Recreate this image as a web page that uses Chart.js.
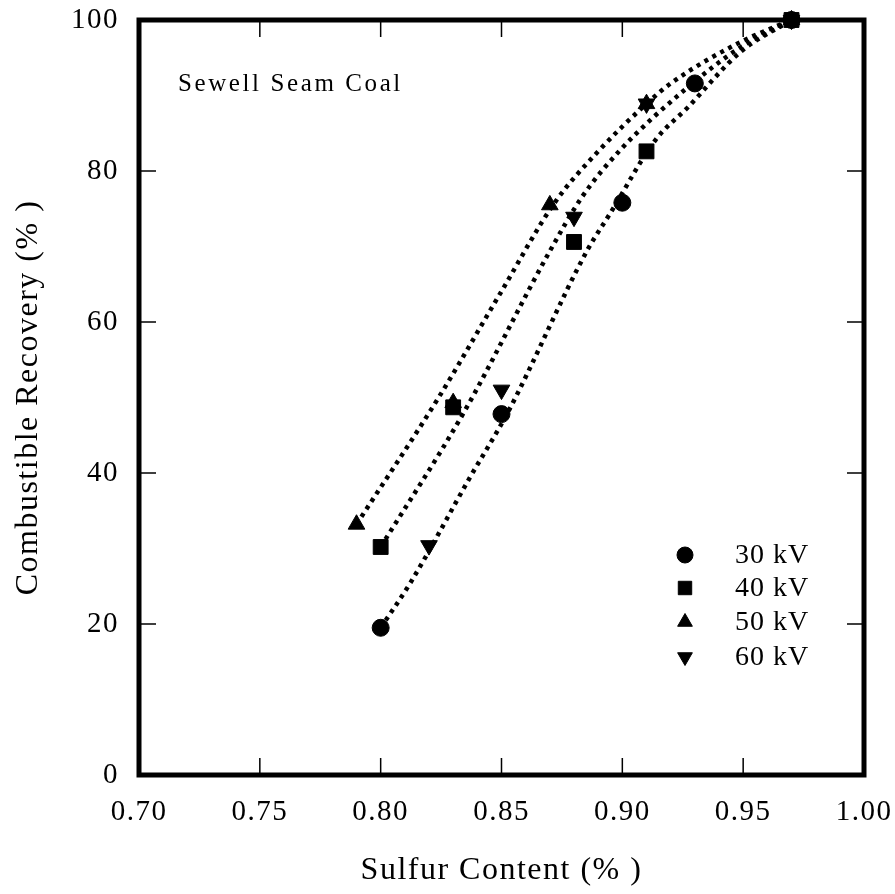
<!DOCTYPE html>
<html>
<head>
<meta charset="utf-8">
<script src="https://cdn.jsdelivr.net/npm/chart.js@4.4.1/dist/chart.umd.min.js"></script>
<style>
  html, body { margin: 0; padding: 0; background: #fff; }
  #wrap { width: 895px; height: 894px; }
</style>
</head>
<body>
<div id="wrap"><canvas id="chart" width="895" height="894"></canvas></div>
<script>
// measured points, sulfur content (%) vs combustible recovery (%)
const sulfur30 = [0.80, 0.85, 0.90, 0.93, 0.97];
const recovery30 = [19.5, 47.8, 75.8, 91.6, 100];
const sulfur40 = [0.80, 0.83, 0.88, 0.91, 0.97];
const recovery40 = [30.2, 48.7, 70.6, 82.6, 100];
const sulfur50 = [0.79, 0.83, 0.87, 0.91, 0.97];
const recovery50 = [33.2, 49.3, 75.5, 88.9, 100];
const sulfur60 = [0.82, 0.85, 0.88, 0.91, 0.97];
const recovery60 = [30.4, 51.0, 73.9, 88.9, 100];

// dotted fit curves
const fitSulfurA = [0.79, 0.8238, 0.8495, 0.872, 0.890, 0.91, 0.92, 0.949, 0.97];
const fitRecoveryA = [33.2, 49.9, 63.8, 75.8, 82.6, 88.9, 91.6, 97.1, 100];
const fitSulfurB = [0.80, 0.8342, 0.8702, 0.8834, 0.8992, 0.926, 0.949, 0.97];
const fitRecoveryB = [30.2, 47.9, 69.5, 76.6, 82.8, 90.8, 96.4, 100];
const fitSulfurC = [0.80, 0.8122, 0.8371, 0.8524, 0.8855, 0.895, 0.9137, 0.9273, 0.949, 0.97];
const fitRecoveryC = [19.5, 25.4, 39.5, 47.9, 69.5, 74.4, 84.1, 88.5, 95.8, 100];

const xTicks = [0.70, 0.75, 0.80, 0.85, 0.90, 0.95, 1.00];
const yTicks = [0, 20, 40, 60, 80, 100];

const SERIF = "'Liberation Serif', 'Times New Roman', serif";

function zip(xs, ys) {
  return xs.map((x, i) => ({ x: x, y: ys[i] }));
}

function markerSet(label, xs, ys, style, radius, rotation) {
  return {
    label: label,
    data: zip(xs, ys),
    showLine: false,
    pointStyle: style,
    pointRadius: radius,
    pointHoverRadius: radius,
    rotation: rotation || 0,
    pointBorderWidth: 1,
    backgroundColor: "#000",
    borderColor: "#000",
    clip: false,
  };
}

function fitLine(xs, ys) {
  return {
    label: "fit",
    data: zip(xs, ys),
    showLine: true,
    pointRadius: 0,
    pointHoverRadius: 0,
    borderColor: "#000",
    borderWidth: 4.5,
    borderDash: [4, 5],
    borderCapStyle: "butt",
    tension: 0.4,
    cubicInterpolationMode: "monotone",
    clip: false,
  };
}

const legendMarks = [
  { style: "circle", radius: 8, rotation: 0 },
  { style: "rect", radius: 9.5, rotation: 0 },
  { style: "triangle", radius: 8.5, rotation: 0 },
  { style: "triangle", radius: 8.5, rotation: 180 },
];

// frame with inward ticks on all four sides
const framePlugin = {
  id: "frame",
  beforeDraw(chart) {
    chart.ctx.letterSpacing = "1.5px";
  },
  beforeDatasetsDraw(chart) {
    const { ctx, chartArea: a, scales } = chart;
    ctx.save();
    ctx.strokeStyle = "#000";
    ctx.lineWidth = 1.5;
    const tl = 17;
    scales.x.ticks.forEach((t, i, arr) => {
      if (i === 0 || i === arr.length - 1) return;
      const px = scales.x.getPixelForValue(t.value);
      ctx.beginPath();
      ctx.moveTo(px, a.bottom);
      ctx.lineTo(px, a.bottom - tl);
      ctx.moveTo(px, a.top);
      ctx.lineTo(px, a.top + tl);
      ctx.stroke();
    });
    scales.y.ticks.forEach((t, i, arr) => {
      if (i === 0 || i === arr.length - 1) return;
      const py = scales.y.getPixelForValue(t.value);
      ctx.beginPath();
      ctx.moveTo(a.left, py);
      ctx.lineTo(a.left + tl, py);
      ctx.moveTo(a.right, py);
      ctx.lineTo(a.right - tl, py);
      ctx.stroke();
    });
    ctx.lineWidth = 5;
    ctx.strokeRect(a.left, a.top, a.right - a.left, a.bottom - a.top);
    ctx.restore();
  },
  afterDraw(chart) {
    const ctx = chart.ctx;
    ctx.save();
    ctx.fillStyle = "#000";
    ctx.strokeStyle = "#000";

    // note in the top left corner
    ctx.font = "25px " + SERIF;
    ctx.letterSpacing = "2.6px";
    ctx.textAlign = "left";
    ctx.textBaseline = "alphabetic";
    ctx.fillText("Sewell Seam Coal", 178, 91);

    // legend
    ctx.font = "28px " + SERIF;
    ctx.letterSpacing = "1px";
    ctx.textBaseline = "middle";
    const rows = [555, 588, 622, 657];
    legendMarks.forEach((m, i) => {
      Chart.helpers.drawPoint(ctx, {
        pointStyle: m.style,
        rotation: m.rotation,
        radius: m.radius,
        borderWidth: 1,
      }, 685, rows[i]);
      ctx.fillText(chart.data.datasets[i].label, 735, rows[i] + 1);
    });
    ctx.restore();
  },
};

new Chart(document.getElementById("chart"), {
  type: "scatter",
  data: {
    datasets: [
      markerSet("30 kV", sulfur30, recovery30, "circle", 8.5),
      markerSet("40 kV", sulfur40, recovery40, "rect", 10.5),
      markerSet("50 kV", sulfur50, recovery50, "triangle", 9.6),
      markerSet("60 kV", sulfur60, recovery60, "triangle", 9.6, 180),
      fitLine(fitSulfurA, fitRecoveryA),
      fitLine(fitSulfurB, fitRecoveryB),
      fitLine(fitSulfurC, fitRecoveryC),
    ],
  },
  options: {
    responsive: false,
    animation: false,
    layout: { padding: { top: 20, right: 31, left: 0, bottom: 0 } },
    plugins: {
      legend: { display: false },
      tooltip: { enabled: false },
    },
    scales: {
      x: {
        type: "linear",
        min: xTicks[0],
        max: xTicks[xTicks.length - 1],
        afterBuildTicks: (s) => { s.ticks = xTicks.map((v) => ({ value: v })); },
        afterFit: (s) => { s.height = 119; s.paddingLeft = 0; s.paddingRight = 0; },
        grid: { display: false, drawTicks: false },
        border: { display: false },
        ticks: {
          color: "#000",
          padding: 20,
          maxRotation: 0,
          autoSkip: false,
          font: { family: SERIF, size: 29 },
          callback: (v) => Number(v).toFixed(2),
        },
        title: {
          display: true,
          text: "Sulfur Content (% )",
          color: "#000",
          font: { family: SERIF, size: 32 },
          padding: { top: 0, bottom: 4 },
        },
      },
      y: {
        type: "linear",
        min: yTicks[0],
        max: yTicks[yTicks.length - 1],
        afterBuildTicks: (s) => { s.ticks = yTicks.map((v) => ({ value: v })); },
        afterFit: (s) => { s.width = 139; s.paddingTop = 0; s.paddingBottom = 0; },
        grid: { display: false, drawTicks: false },
        border: { display: false },
        ticks: {
          color: "#000",
          padding: 20,
          autoSkip: false,
          font: { family: SERIF, size: 29 },
        },
        title: {
          display: true,
          text: "Combustible Recovery (% )",
          color: "#000",
          font: { family: SERIF, size: 32 },
          padding: { top: 9, bottom: 0 },
        },
      },
    },
  },
  plugins: [framePlugin],
});
</script>
</body>
</html>
